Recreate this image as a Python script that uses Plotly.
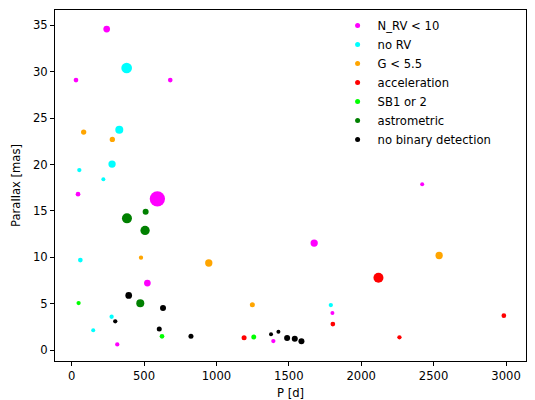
import plotly.graph_objects as go

# ---- data ----
nrv_p = [242, 30, 681, 44, 592, 523, 315, 1393, 1675, 2421, 1801]
nrv_plx = [34.6, 29.1, 29.1, 16.8, 16.3, 7.23, 0.62, 0.98, 11.54, 17.87, 4.0]
nrv_s = [6.7, 4.7, 4.7, 4.7, 15.3, 6.7, 4.3, 4.3, 7.3, 4.0, 4.0]

norv_p = [380, 329, 279, 53, 219, 60, 276, 149, 1790]
norv_plx = [30.4, 23.75, 20.05, 19.4, 18.4, 9.7, 3.6, 2.13, 4.86]
norv_s = [10.7, 8.0, 7.3, 4.3, 4.0, 4.7, 4.3, 4.0, 4.3]

g_p = [83, 281, 479, 947, 1248, 2538]
g_plx = [23.5, 22.7, 9.96, 9.39, 4.9, 10.2]
g_s = [5.3, 5.3, 4.3, 7.3, 5.0, 7.3]

acc_p = [2119, 1804, 2264, 2985, 1191]
acc_plx = [7.8, 2.81, 1.38, 3.71, 1.34]
acc_s = [10.0, 4.7, 4.3, 4.7, 5.0]

sb_p = [48, 624, 1258]
sb_plx = [5.07, 1.49, 1.41]
sb_s = [4.3, 4.7, 5.0]

ast_p = [382, 511, 507, 474]
ast_plx = [14.2, 14.9, 12.9, 5.04]
ast_s = [10.0, 6.0, 9.3, 8.0]

nb_p = [394, 631, 301, 605, 824, 1377, 1428, 1488, 1541, 1587]
nb_plx = [5.9, 4.54, 3.1, 2.27, 1.49, 1.7, 1.98, 1.3, 1.23, 0.95]
nb_s = [6.7, 6.0, 4.3, 5.0, 5.0, 4.0, 4.0, 6.0, 6.0, 6.0]

x_ticks = [0, 500, 1000, 1500, 2000, 2500, 3000]
y_ticks = [0, 5, 10, 15, 20, 25, 30, 35]

series = [
    ("N_RV < 10", "#ff00ff", nrv_p, nrv_plx, nrv_s),
    ("no RV", "#00ffff", norv_p, norv_plx, norv_s),
    ("G < 5.5", "#ffa500", g_p, g_plx, g_s),
    ("acceleration", "#ff0000", acc_p, acc_plx, acc_s),
    ("SB1 or 2", "#00ff00", sb_p, sb_plx, sb_s),
    ("astrometric", "#008000", ast_p, ast_plx, ast_s),
    ("no binary detection", "#000000", nb_p, nb_plx, nb_s),
]

fig = go.Figure()
for name, col, xs, ys, ss in series:
    fig.add_trace(go.Scatter(x=xs, y=ys, mode="markers", name=name,
                             legendgroup=name, showlegend=False,
                             marker=dict(color=col, size=ss, opacity=1,
                                         line=dict(width=0))))
for name, col, xs, ys, ss in series:
    fig.add_trace(go.Scatter(x=[None], y=[None], mode="markers", name=name,
                             legendgroup=name, showlegend=True,
                             marker=dict(color=col, size=5, opacity=1,
                                         line=dict(width=0))))

font = dict(family="DejaVu Sans", size=11.6, color="#000000")
axis_common = dict(showline=True, linecolor="#000000", linewidth=1, mirror=True,
                   ticks="outside", ticklen=4, tickwidth=1, tickcolor="#000000",
                   showgrid=False, zeroline=False, tickfont=font, automargin=False)

fig.update_layout(
    width=535, height=400,
    margin=dict(l=55, r=9, t=10, b=39, autoexpand=False),
    paper_bgcolor="white", plot_bgcolor="white",
    font=font,
    xaxis=dict(range=[-115, 3138], tickvals=x_ticks,
               title=dict(text="P [d]", font=font, standoff=9), **axis_common),
    yaxis=dict(range=[-1.17, 36.65], tickvals=y_ticks,
               title=dict(text="Parallax [mas]", font=font, standoff=9), **axis_common),
    legend=dict(x=0.6, y=0.997, xanchor="left", yanchor="top",
                bgcolor="rgba(255,255,255,0)", borderwidth=0,
                font=font, itemwidth=30, tracegroupgap=0),
    showlegend=True,
)

fig.write_html("out.html")
